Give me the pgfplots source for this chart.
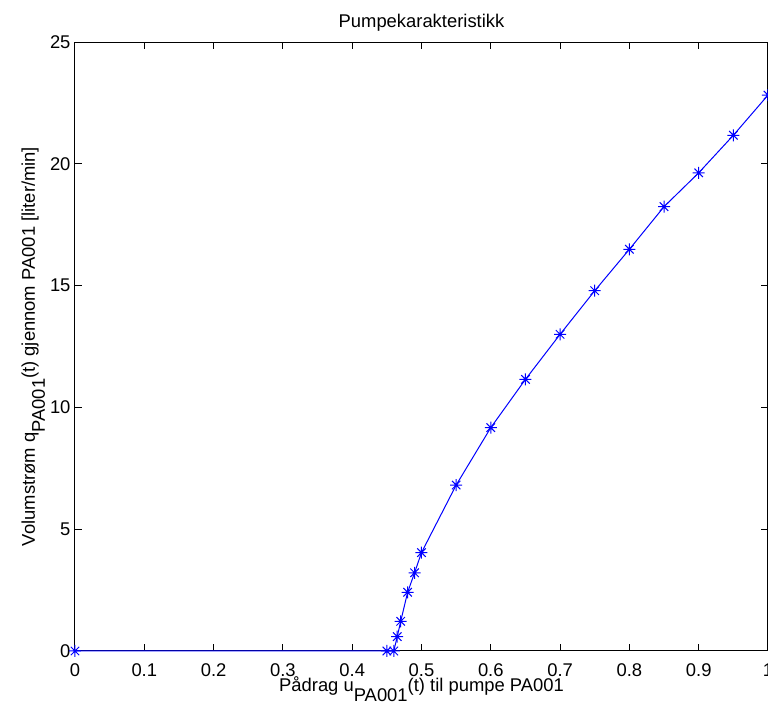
\documentclass[border=0pt]{standalone}
\usepackage{fontspec}
\setmainfont{Liberation Sans}
\usepackage{pgfplots}
\pgfplotsset{compat=1.18}

% MATLAB-style '*' marker: a plus overlaid with a cross
\pgfdeclareplotmark{mstar}{%
  \pgfpathmoveto{\pgfqpoint{-\pgfplotmarksize}{0pt}}%
  \pgfpathlineto{\pgfqpoint{\pgfplotmarksize}{0pt}}%
  \pgfpathmoveto{\pgfqpoint{0pt}{-\pgfplotmarksize}}%
  \pgfpathlineto{\pgfqpoint{0pt}{\pgfplotmarksize}}%
  \pgfpathmoveto{\pgfqpoint{-0.707\pgfplotmarksize}{-0.707\pgfplotmarksize}}%
  \pgfpathlineto{\pgfqpoint{0.707\pgfplotmarksize}{0.707\pgfplotmarksize}}%
  \pgfpathmoveto{\pgfqpoint{-0.707\pgfplotmarksize}{0.707\pgfplotmarksize}}%
  \pgfpathlineto{\pgfqpoint{0.707\pgfplotmarksize}{-0.707\pgfplotmarksize}}%
  \pgfusepathqstroke}

% subscript set at full size, lowered as in MATLAB's text renderer
\newcommand{\sub}[1]{\raisebox{-5pt}{#1}}

\begin{document}
\begin{tikzpicture}
\fontsize{9.2}{11}\selectfont
\begin{axis}[
  scale only axis,
  width=346.5pt, height=304.5pt,
  xmin=0, xmax=1, ymin=0, ymax=25,
  xtick={0,0.1,...,1.0},
  ytick={0,5,10,15,20,25},
  tick align=inside,
  major tick length=3.5pt,
  axis line style={black, line width=0.5pt},
  every tick/.style={black, line width=0.5pt},
  /pgf/number format/assume math mode=true,
  tick label style={font=\fontsize{9.2}{11}\selectfont},
  xticklabel style={yshift=-3.2pt},
  yticklabel style={xshift=1pt},
  clip=false,
  every axis title/.style={at={(axis description cs:0.5,1)}, anchor=base,
    yshift=7.5pt, font=\fontsize{9.2}{11}\selectfont},
  every axis x label/.style={at={(axis description cs:0.5,0)}, anchor=base,
    yshift=-20.5pt, font=\fontsize{9.2}{11}\selectfont},
  every axis y label/.style={at={(axis description cs:0,0.5)}, anchor=base,
    rotate=90, yshift=20pt, font=\fontsize{9.2}{11}\selectfont},
  title={Pumpekarakteristikk},
  xlabel={Pådrag u\sub{PA001}(t) til pumpe PA001},
  ylabel={Volumstrøm q\sub{PA001}(t) gjennom PA001 [liter/min]},
]
\addplot[color=blue, line width=0.5pt, mark=mstar, mark size=3pt,
  mark options={solid, line width=0.5pt}] table {
x      y
0      0
0.45   0
0.46   0
0.465  0.59
0.47   1.22
0.48   2.41
0.49   3.21
0.5    4.04
0.55   6.81
0.6    9.17
0.65   11.15
0.7    13.00
0.75   14.79
0.8    16.49
0.85   18.24
0.9    19.63
0.95   21.17
1.0    22.82
};
\coordinate (bl) at (rel axis cs:0,0);
\coordinate (tr) at (rel axis cs:1,1);
\end{axis}
\pgfresetboundingbox
\path ([xshift=-37.5pt, yshift=-28pt]bl) rectangle ([yshift=21pt]tr);
\end{tikzpicture}
\end{document}
